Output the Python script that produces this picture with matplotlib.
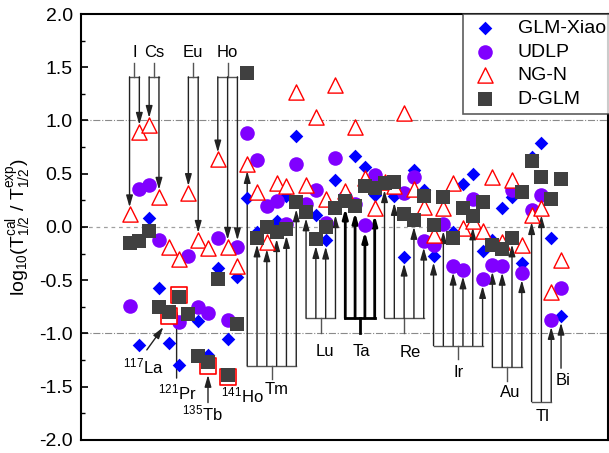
import numpy as np
import matplotlib
matplotlib.use('Agg')
import matplotlib.pyplot as plt
from matplotlib.ticker import MultipleLocator

plt.rcParams['font.family'] = ['Liberation Sans', 'DejaVu Sans']
plt.rcParams['mathtext.fontset'] = 'custom'
plt.rcParams['mathtext.rm'] = 'Liberation Sans'
plt.rcParams['mathtext.it'] = 'Liberation Sans:italic'
plt.rcParams['mathtext.default'] = 'regular'

nan = np.nan
# nucleus index along x (45 proton emitters, left to right)
idx = np.arange(45)

glm_xiao = [nan, -1.11, 0.08, -0.57, -1.09, -1.30, nan, -0.88, -1.20, -0.39,
            -1.05, -0.47, 0.275, -0.045, nan, 0.06, 0.29, 0.855, nan, 0.11,
            -0.12, 0.44, nan, 0.67, 0.56, 0.30, nan, 0.29, -0.28, 0.535,
            0.35, -0.27, nan, -0.05, 0.40, 0.495, -0.225, -0.12, 0.18, 0.285,
            -0.335, 0.66, 0.79, -0.105, -0.835]
udlp = [-0.74, 0.36, 0.39, -0.12, nan, -0.895, -0.27, -0.755, -0.81, -0.10,
        -0.87, -0.19, 0.885, 0.63, 0.20, 0.245, 0.025, 0.59, 0.22, 0.35,
        0.035, 0.645, 0.28, 0.22, 0.02, 0.49, nan, nan, 0.315, 0.465,
        -0.13, -0.17, 0.025, -0.365, -0.40, 0.26, -0.49, -0.357, -0.366, 0.35,
        -0.435, 0.155, 0.30, -0.875, -0.57]
ng_n = [0.12, 0.895, 0.96, 0.285, -0.185, -0.30, 0.32, -0.12, -0.20, 0.635,
        -0.185, -0.37, 0.59, 0.33, -0.145, 0.41, 0.385, 1.27, 0.395, 1.035,
        0.26, 1.33, 0.34, 0.935, 0.457, 0.175, 0.425, 0.385, 1.07, 0.355,
        0.185, -0.08, 0.175, 0.41, -0.01, 0.06, -0.035, 0.47, -0.14, 0.44,
        -0.17, 0.11, 0.175, -0.61, -0.31]
d_glm = [-0.147, -0.13, -0.04, -0.755, -0.795, -0.66, -0.82, -1.21, -1.27, -0.49,
         -1.39, -0.915, 1.45, -0.10, 0.0, -0.05, -0.02, 0.23, 0.145, -0.115,
         0.0, 0.175, 0.24, 0.20, 0.385, 0.37, 0.41, 0.425, 0.12, 0.065,
         0.29, 0.02, 0.285, -0.105, 0.175, 0.105, 0.23, -0.17, -0.205, -0.10,
         0.325, 0.62, 0.47, 0.26, 0.45]
# red boxed points (117La, 121Pr, 135Tb, 141Ho)
boxed_idx = [4, 5, 8, 10]
boxed_val = [-0.84, -0.64, -1.31, -1.41]

series = {'D': glm_xiao, 'C': udlp, 'T': ng_n, 'S': d_glm}

fig = plt.figure(figsize=(6.09, 4.53), dpi=100)
ax = fig.add_axes([0.133, 0.029, 0.866, 0.940])

ax.scatter(idx, glm_xiao, marker='D', s=48, color='#0000ff', lw=0, zorder=3, label='GLM-Xiao')
ax.scatter(idx, udlp, marker='o', s=110, color='#8000ff', lw=0, zorder=4, label='UDLP')
ax.scatter(idx, ng_n, marker='^', s=120, facecolor='white', edgecolor='#ff0000', lw=1.0, zorder=5, label='NG-N')
ax.scatter(boxed_idx, boxed_val, marker='s', s=120, facecolor='white', edgecolor='#ff0000', lw=1.2, zorder=5.5)
ax.scatter(idx, d_glm, marker='s', s=95, color='#404040', lw=0, zorder=6, label='D-GLM')

ax.axhline(1.0, color='#8a8a8a', lw=0.8, ls='-.', zorder=1)
ax.axhline(-1.0, color='#8a8a8a', lw=0.8, ls='-.', zorder=1)
ax.axhline(0.0, color='#a0a0a0', lw=0.9, ls=(0, (3, 3)), zorder=1)

gray = '#555555'
off = 0.065
arrow = dict(arrowstyle='-|>,head_length=0.7,head_width=0.2', color='#222222',
             lw=1.0, shrinkA=0, shrinkB=0, mutation_scale=10)


def val(key, i):
    return series[key][i]


# top groups: arrows pointing down from a bracket
top_groups = [
    ('I', [(0, 'T'), (1, 'T')], 0.5),
    ('Cs', [(2, 'T'), (3, 'T')], 2.5),
    ('Eu', [(6, 'T'), (7, 'T')], 6.5),
    ('Ho', [(9, 'T'), (10, 'T'), (11, 'C')], 10),
]
btop = 1.41
for name, tg, sx in top_groups:
    xs = [t[0] for t in tg]
    ax.plot([min(xs), max(xs)], [btop, btop], color=gray, lw=1.0, zorder=2)
    ax.plot([sx, sx], [btop, 1.54], color=gray, lw=1.0, zorder=2)
    for i, k in tg:
        ax.annotate('', xy=(i, val(k, i) + off), xytext=(i, btop), arrowprops=arrow, zorder=2)
    ax.text(sx, 1.57, name, ha='center', va='bottom', fontsize=12)

# bottom groups: arrows pointing up from a bracket
bottom_groups = [
    ('Tm', [(12, 'T'), (13, 'S'), (14, 'T'), (15, 'S'), (16, 'S'), (17, 'S')], -1.305, 14.5, -1.43, 15.0, -1.46, '#555555', 1.0),
    ('Lu', [(18, 'S'), (19, 'S'), (20, 'D'), (21, 'S')], -0.857, 19.5, -0.995, 19.9, -1.10, '#555555', 1.0),
    ('Ta', [(22, 'S'), (23, 'S'), (24, 'C'), (25, 'T')], -0.857, 23.5, -0.995, 23.6, -1.10, '#000000', 2.0),
    ('Re', [(26, 'S'), (27, 'D'), (28, 'D'), (29, 'S'), (30, 'C')], -0.857, 28.0, -0.995, 28.6, -1.11, '#555555', 1.0),
    ('Ir', [(31, 'D'), (32, 'C'), (33, 'C'), (34, 'C'), (35, 'T'), (36, 'C')], -1.115, 33.5, -1.24, 33.6, -1.30, '#555555', 1.0),
    ('Au', [(37, 'C'), (38, 'C'), (39, 'S'), (40, 'C')], -1.317, 38.5, -1.45, 38.8, -1.48, '#555555', 1.0),
    ('Tl', [(41, 'T'), (42, 'T'), (43, 'C')], -1.64, None, None, 42.1, -1.71, '#555555', 1.0),
    ('Bi', [(44, 'D')], -1.327, None, None, 44.2, -1.37, '#555555', 1.0),
]
for name, tg, by, sx, sy, lx, ly, c, w in bottom_groups:
    xs = [t[0] for t in tg]
    if len(xs) > 1:
        ax.plot([min(xs), max(xs)], [by, by], color=c, lw=w, zorder=2)
    if sx is not None:
        ax.plot([sx, sx], [by, sy], color=c, lw=w, zorder=2)
    a = dict(arrow)
    a['lw'] = w
    if w > 1:
        a['color'] = '#000000'
        a['mutation_scale'] = 8
    for i, k in tg:
        ax.annotate('', xy=(i, val(k, i) - off), xytext=(i, by), arrowprops=a, zorder=2)
    ax.text(lx, ly, name, ha='center', va='top', fontsize=12)

# single labelled nuclei in the lower left
ax.annotate('', xy=(3.45, -0.94), xytext=(1.76, -1.155), arrowprops=arrow, zorder=2)
ax.text(1.4, -1.31, '$^{117}$La', ha='center', va='center', fontsize=12)
ax.annotate('', xy=(4.8, -0.78), xytext=(4.8, -1.42), arrowprops=arrow, zorder=2)
ax.text(4.85, -1.55, '$^{121}$Pr', ha='center', va='center', fontsize=12)
ax.annotate('', xy=(8.0, -1.39), xytext=(8.0, -1.65), arrowprops=arrow, zorder=2)
ax.text(7.45, -1.75, '$^{135}$Tb', ha='center', va='center', fontsize=12)
ax.text(11.5, -1.58, '$^{141}$Ho', ha='center', va='center', fontsize=12)

ax.set_xlim(-4.95, 48.83)
ax.set_ylim(-2.0, 2.0)
ax.set_xticks([])
ax.yaxis.set_major_locator(MultipleLocator(0.5))
ax.yaxis.set_minor_locator(MultipleLocator(0.25))
ax.set_yticklabels([f'{v:.1f}' for v in ax.get_yticks()])
ax.tick_params(axis='y', which='major', direction='in', length=5, width=1.2, labelsize=14, pad=6)
ax.tick_params(axis='y', which='minor', direction='in', length=3, width=1.0)
for sp in ax.spines.values():
    sp.set_linewidth(1.5)
ax.set_ylabel('log$_{10}$(T$^{cal}_{1/2}$ / T$^{exp}_{1/2}$)', fontsize=14, labelpad=4)

leg = ax.legend(loc='upper right', bbox_to_anchor=(1.006, 1.0), borderaxespad=0,
                fontsize=14, frameon=True, fancybox=False, edgecolor='#333333',
                handletextpad=0.9, labelspacing=0.3, borderpad=0.3, handlelength=1.6)
leg.get_frame().set_linewidth(1.2)
leg.set_zorder(10)

fig.savefig('out.png', dpi=100)
